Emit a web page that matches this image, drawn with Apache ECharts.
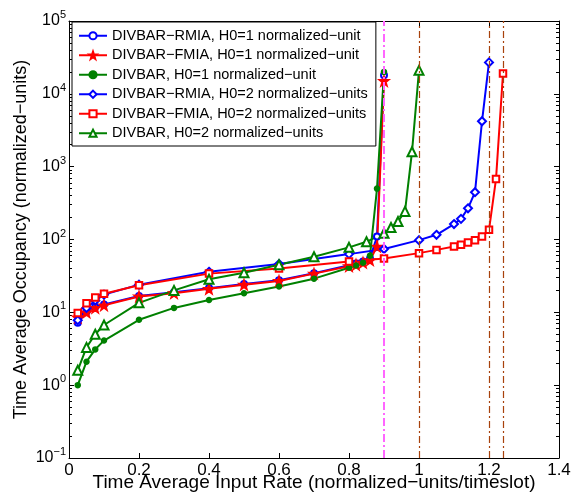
<!DOCTYPE html>
<html>
<head>
<meta charset="utf-8">
<script src="https://cdn.jsdelivr.net/npm/echarts@6/dist/echarts.min.js"></script>
<style>
  html, body { margin: 0; padding: 0; background: #fff; }
  #chart { width: 574px; height: 492px; }
</style>
</head>
<body>
<div id="chart"></div>
<script>
  // H0=1 curves (RMIA / FMIA / DIVBAR)
  var xH1 = [0.025, 0.05, 0.075, 0.1, 0.2, 0.3, 0.4, 0.5, 0.6, 0.7, 0.8, 0.82, 0.84, 0.86, 0.88, 0.9];
  var rmiaH1 = [7.2, 10.2, 11.8, 12.8, 16.8, 18.8, 21.5, 24.5, 27.5, 34.5, 44.5, 47, 50, 55, 110, 18000];
  var fmiaH1 = [8.5, 10, 11.5, 12.5, 16.5, 18.3, 21, 24, 27, 34, 43, 45, 48, 52, 80, 15000];
  var divbarH1 = [1.0, 2.1, 3.1, 4.1, 7.9, 11.5, 14.8, 18.3, 22.6, 29, 41, 44, 48, 60, 500, 20000];

  // H0=2 curves
  var xRmiaH2 = [0.025, 0.05, 0.075, 0.1, 0.2, 0.4, 0.6, 0.8, 0.9, 1.0, 1.05, 1.1, 1.12, 1.14, 1.16, 1.18, 1.2];
  var rmiaH2 = [7.8, 11.5, 14.5, 17.5, 24, 36, 46, 63, 74, 98, 116, 163, 192, 268, 446, 4200, 27000];
  var xFmiaH2 = [0.025, 0.05, 0.075, 0.1, 0.2, 0.4, 0.6, 0.8, 0.9, 1.0, 1.05, 1.1, 1.12, 1.14, 1.16, 1.18, 1.2, 1.22, 1.24];
  var fmiaH2 = [9.8, 13.3, 16, 18, 23.5, 34, 40, 50, 55, 65, 72, 80, 85, 91, 98, 110, 136, 675, 19000];
  var xDivbarH2 = [0.025, 0.05, 0.075, 0.1, 0.2, 0.3, 0.4, 0.5, 0.6, 0.7, 0.8, 0.85, 0.9, 0.92, 0.94, 0.96, 0.98, 1.0];
  var divbarH2 = [1.6, 3.3, 5.0, 6.7, 13.5, 20, 28.5, 35, 45, 58, 78, 93, 122, 146, 177, 243, 1600, 21000];

  // vertical reference lines
  var magentaLine = [0.9];
  var brownLines = [1.0, 1.2, 1.24];

  var legendNames = [
    'DIVBAR\u2212RMIA, H0=1 normalized\u2212unit',
    'DIVBAR\u2212FMIA, H0=1 normalized\u2212unit',
    'DIVBAR, H0=1 normalized\u2212unit',
    'DIVBAR\u2212RMIA, H0=2 normalized\u2212units',
    'DIVBAR\u2212FMIA, H0=2 normalized\u2212units',
    'DIVBAR, H0=2 normalized\u2212units'
  ];

  function pairs(xs, ys) {
    return xs.map(function (x, i) { return [x, ys[i]]; });
  }

  // minor tick positions (log10 of 2..9 in each decade), drawn on a helper axis
  var minorY = [];
  for (var e = -1; e < 5; e++) {
    for (var m = 2; m <= 9; m++) minorY.push(e + Math.log10(m));
  }

  var star = 'path://M0,-10L2.35,-3.24L9.51,-3.09L3.8,1.24L5.88,8.09L0,4L-5.88,8.09L-3.8,1.24L-9.51,-3.09L-2.35,-3.24Z';
  var font = 'Liberation Sans';

  function mkSeries(name, data, color, symbol, size) {
    return {
      name: name,
      type: 'line',
      data: data,
      symbol: symbol,
      symbolSize: size,
      showSymbol: true,
      lineStyle: { color: color, width: 2 },
      itemStyle: { color: color, borderColor: color, borderWidth: 1.5 },
      emphasis: { disabled: true },
      animation: false,
      z: 3
    };
  }

  var chart = echarts.init(document.getElementById('chart'));

  var axisLine = { show: true, onZero: false, lineStyle: { color: '#000', width: 1 } };
  var majorTick = { show: true, inside: true, length: 5, lineStyle: { color: '#000' } };
  var yFmt = function (v) {
    var p = Math.round(Math.log10(v));
    return '{b|10}{s|' + (p < 0 ? '\u2212' + (-p) : p) + '}';
  };
  function minorAxis(pos) {
    return {
      type: 'value', position: pos,
      min: -1, max: 5,
      axisLine: { show: false, onZero: false },
      axisTick: { show: true, inside: true, length: 3, customValues: minorY, lineStyle: { color: '#000' } },
      axisLabel: { show: false },
      splitLine: { show: false }
    };
  }

  chart.setOption({
    animation: false,
    backgroundColor: '#fff',
    textStyle: { fontFamily: font },
    grid: { left: 69, right: 15, top: 21, bottom: 34, outerBoundsMode: 'none', containLabel: false },
    legend: {
      orient: 'vertical',
      left: 72,
      top: 22,
      padding: [4, 8, 3, 6],
      itemGap: 0,
      itemWidth: 28,
      itemHeight: 9,
      backgroundColor: '#fff',
      borderColor: '#000',
      borderWidth: 1,
      textStyle: { fontFamily: font, fontSize: 14.5, lineHeight: 19.5, color: '#000' },
      data: legendNames
    },
    xAxis: [{
      type: 'value',
      min: 0, max: 1.4, interval: 0.2,
      axisLine: axisLine,
      axisTick: majorTick,
      splitLine: { show: false },
      axisLabel: {
        color: '#000', fontSize: 17, fontFamily: font, margin: 4,
        formatter: function (v) { return String(+v.toFixed(1)); }
      },
      name: 'Time Average Input Rate (normalized\u2212units/timeslot)',
      nameLocation: 'middle',
      nameMoveOverlap: false,
      nameGap: 15,
      nameTextStyle: { color: '#000', fontSize: 19, fontFamily: font }
    }, {
      type: 'value', position: 'top',
      min: 0, max: 1.4, interval: 0.2,
      axisLine: axisLine,
      axisTick: majorTick,
      axisLabel: { show: false },
      splitLine: { show: false }
    }],
    yAxis: [{
      type: 'log',
      logBase: 10,
      min: 0.1, max: 100000,
      axisLine: axisLine,
      axisTick: majorTick,
      splitLine: { show: false },
      axisLabel: {
        color: '#000', fontFamily: font, margin: 3,
        formatter: yFmt,
        rich: {
          b: { fontSize: 16, fontFamily: font, color: '#000' },
          s: { fontSize: 11, fontFamily: font, color: '#000', padding: [0, 0, 12, 0] }
        }
      },
      name: 'Time Average Occupancy (normalized\u2212units)',
      nameLocation: 'middle',
      nameMoveOverlap: false,
      nameGap: 39,
      nameTextStyle: { color: '#000', fontSize: 18, fontFamily: font }
    }, {
      type: 'log',
      logBase: 10,
      position: 'right',
      min: 0.1, max: 100000,
      axisLine: axisLine,
      axisTick: majorTick,
      axisLabel: { show: false },
      splitLine: { show: false }
    }, minorAxis('left'), minorAxis('right')],
    series: [
      mkSeries(legendNames[0], pairs(xH1, rmiaH1), '#0000ff', 'emptyCircle', 6),
      mkSeries(legendNames[1], pairs(xH1, fmiaH1), '#ff0000', star, 10),
      mkSeries(legendNames[2], pairs(xH1, divbarH1), '#008000', 'circle', 5),
      mkSeries(legendNames[3], pairs(xRmiaH2, rmiaH2), '#0000ff', 'emptyDiamond', 8),
      mkSeries(legendNames[4], pairs(xFmiaH2, fmiaH2), '#ff0000', 'emptyRect', 6.5),
      mkSeries(legendNames[5], pairs(xDivbarH2, divbarH2), '#008000', 'emptyTriangle', 9),
      {
        type: 'line', data: [], silent: true,
        markLine: {
          silent: true, symbol: 'none', animation: false,
          label: { show: false },
          lineStyle: { color: '#ff66ff', width: 2, type: [8, 3, 2, 3] },
          data: magentaLine.map(function (v) { return { xAxis: v }; })
        }
      },
      {
        type: 'line', data: [], silent: true,
        markLine: {
          silent: true, symbol: 'none', animation: false,
          label: { show: false },
          lineStyle: { color: '#a8420c', width: 1.2, type: [7, 3, 2, 3] },
          data: brownLines.map(function (v) { return { xAxis: v }; })
        }
      }
    ]
  });
</script>
</body>
</html>
